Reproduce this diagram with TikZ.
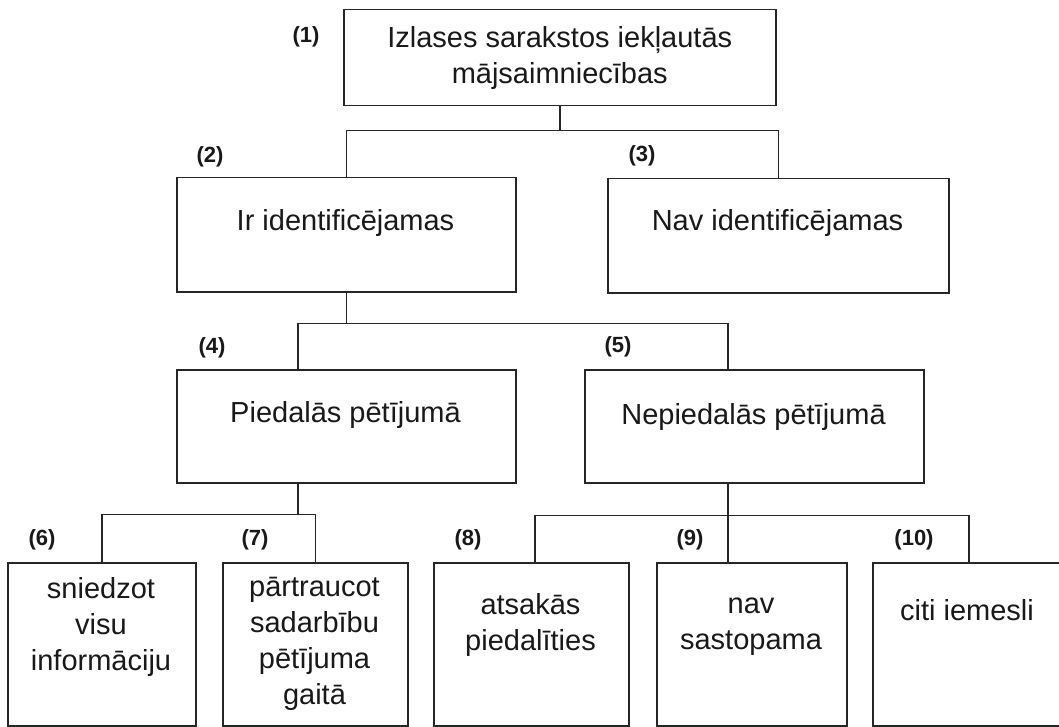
\documentclass[tikz,border=0pt]{standalone}
\usepackage{fontspec}
\setmainfont{Liberation Sans}
\begin{document}
\begin{tikzpicture}[x=1pt,y=-1pt,
  box/.style={draw=black!85, line width=1.5pt, rectangle, inner sep=0pt, anchor=north west},
  txt/.style={font=\fontsize{29}{36}\selectfont, align=center, inner sep=0pt, text=black!90},
  num/.style={font=\fontsize{22}{26}\selectfont\bfseries, inner sep=0pt, text=black!90},
  conn/.style={draw=black!85, line width=1.5pt}]
\useasboundingbox[fill=white] (0,0) rectangle (1059,727);

% boxes
\node[box, minimum width=432pt, minimum height=96pt] (b1) at (343,9) {};
\node[box, minimum width=339pt, minimum height=114pt] (b2) at (176,177) {};
\node[box, minimum width=341pt, minimum height=114pt] (b3) at (607,178) {};
\node[box, minimum width=339pt, minimum height=113pt] (b4) at (176,369) {};
\node[box, minimum width=339pt, minimum height=113pt] (b5) at (584,369) {};
\node[box, minimum width=188pt, minimum height=163pt] (b6) at (7,562) {};
\node[box, minimum width=185pt, minimum height=163pt] (b7) at (222,562) {};
\node[box, minimum width=195pt, minimum height=163pt] (b8) at (433,562) {};
\node[box, minimum width=190pt, minimum height=163pt] (b9) at (656,562) {};
\node[box, minimum width=192pt, minimum height=163pt] (b10) at (872,562) {};

% texts
\node[txt] (t1) at (b1.center) {Izlases sarakstos iekļautās\\mājsaimniecības};
\node[txt] (t2) at (345.5,223) {Ir identificējamas};
\node[txt] (t3) at (777.5,223) {Nav identificējamas};
\node[txt] (t4) at (345.5,415) {Piedalās pētījumā};
\node[txt] (t5) at (753.5,417) {Nepiedalās pētījumā};
\node[txt] (t6) at (101,626.5) {sniedzot\\visu\\informāciju};
\node[txt] (t7) at (314.5,644) {pārtraucot\\sadarbību\\pētījuma\\gaitā};
\node[txt] (t8) at (530.5,624.5) {atsakās\\piedalīties};
\node[txt] (t9) at (751,626.5) {nav\\sastopama};
\node[txt] (t10) at (967,610) {citi iemesli};

% numbers
\node[num] (n1) at (306,37) {(1)};
\node[num] (n2) at (210,157) {(2)};
\node[num] (n3) at (642,156) {(3)};
\node[num] (n4) at (212,348) {(4)};
\node[num] (n5) at (618,347) {(5)};
\node[num] (n6) at (42,540) {(6)};
\node[num] (n7) at (255,540) {(7)};
\node[num] (n8) at (468,540) {(8)};
\node[num] (n9) at (690,540) {(9)};
\node[num] (n10) at (914,540) {(10)};

% connectors
\draw[conn] (b1.south) -- ++(0,24) coordinate (j1);
\draw[conn] (b2.north) |- (j1) -| (b3.north);
\draw[conn] (b2.south) -- ++(0,31) coordinate (j2);
\draw[conn] ([xshift=-48.5pt]b4.north) |- (j2) -| ([xshift=-26.5pt]b5.north);
\draw[conn] ([xshift=-48.5pt]b4.south) -- ++(0,31) coordinate (j4);
\draw[conn] (b6.north) |- (j4) -| (b7.north);
\draw[conn] ([xshift=-26.5pt]b5.south) -- ([xshift=-24pt]b9.north);
\draw[conn] ([xshift=-26.5pt]b5.south) ++(0,32) coordinate (j5);
\draw[conn] ([xshift=3.5pt]b8.north) |- (j5) -| (b10.north);
\end{tikzpicture}
\end{document}
